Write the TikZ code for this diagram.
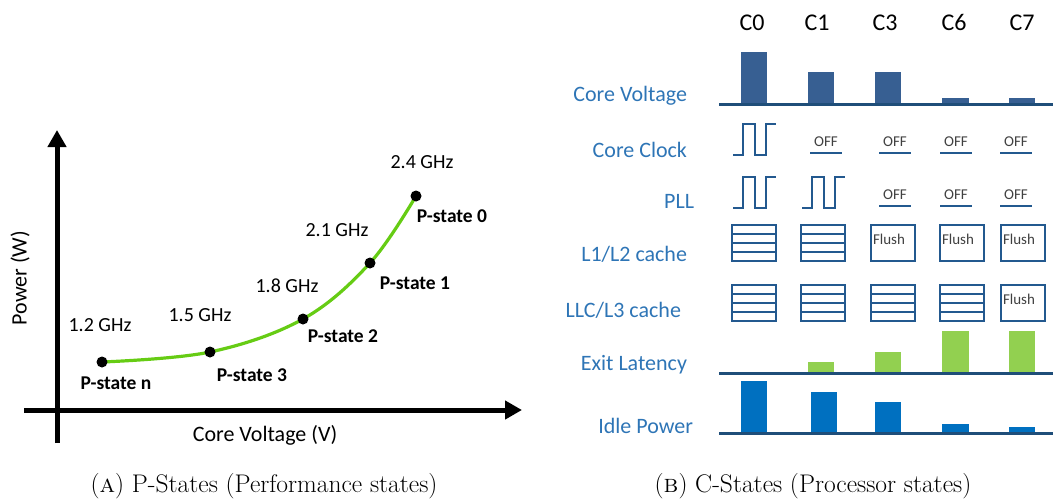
\documentclass[tikz,border=0pt]{standalone}
\usepackage{fontspec}
\newfontfamily\carl{Carlito}
\usetikzlibrary{arrows.meta}
\definecolor{lbl}{HTML}{2E75B6}
\definecolor{navy}{HTML}{1F4E79}
\definecolor{wave}{HTML}{23598F}
\definecolor{voltbar}{HTML}{375F92}
\definecolor{idlebar}{HTML}{0070C0}
\definecolor{latbar}{HTML}{92D050}
\definecolor{curve}{HTML}{66CC14}
\tikzset{
  every node/.style={font=\carl, inner sep=0pt, outer sep=0pt},
  axis/.style={line width=5pt, -{Triangle[length=17pt,width=18pt]}},
  axislabel/.style={font=\carl\fontsize{22}{24}\selectfont},
  freq/.style={font=\carl\fontsize{20}{22}\selectfont},
  pstate/.style={font=\carl\bfseries\fontsize{19.5}{22}\selectfont},
  pdot/.style={circle, fill=black, minimum size=11pt},
  rowlabel/.style={font=\carl\fontsize{22}{24}\selectfont, text=lbl, anchor=base east},
  colhead/.style={font=\carl\fontsize{24}{26}\selectfont, anchor=base},
  baseline/.style={draw=navy, line width=3pt},
  sig/.style={draw=wave, line width=2.4pt, line join=miter},
  offtext/.style={font=\carl\fontsize{15}{17}\selectfont, text=black!75},
  flushtext/.style={font=\carl\fontsize{15}{17}\selectfont, text=black!75, anchor=west},
  capt/.style={font=\rmfamily\fontsize{25.5}{28}\selectfont, anchor=base},
  clk/.pic={\draw[sig] (0,0) -- ++(10,0) -- ++(0,-31) -- ++(12,0) -- ++(0,31)
                -- ++(11,0) -- ++(0,-31) -- ++(10,0);},
  offsig/.pic={\node[offtext] at (0,-11) {OFF};
               \draw[sig] (-16,0) -- (16,0);},
  cachebox/.pic={\draw[sig] (0,0) rectangle (44,36);
                 \foreach \yy in {9,18,27} \draw[sig] (0,\yy) -- (44,\yy);},
  flushbox/.pic={\draw[sig] (0,0) rectangle (44,36);
                 \node[flushtext] at (2,14) {Flush};}
}
\begin{document}
\begin{tikzpicture}[x=1pt,y=-1pt]
\useasboundingbox (0,0) rectangle (1053,499);

% ---------- P-states plot ----------
\coordinate (origin) at (57,410);
\coordinate (ytip) at (57,130);
\coordinate (xtip) at (522,410);
\coordinate (ybot) at (57,443);
\coordinate (xleft) at (24,410);
\draw[axis] (ybot) -- (ytip);
\draw[axis] (xleft) -- (xtip);
\node[axislabel] (xlab) at (265,435) {Core Voltage (V)};
\node[axislabel, rotate=90] (ylab) at (20,278) {Power (W)};

\coordinate (pn) at (102,362);
\coordinate (p3) at (210,352);
\coordinate (p2) at (303,319);
\coordinate (p1) at (370,263);
\coordinate (p0) at (416,196);
\draw[curve, line width=3.2pt] plot[smooth, tension=0.6] coordinates {(pn) (p3) (p2) (p1) (p0)};
\foreach \p in {pn,p3,p2,p1,p0} \node[pdot] (dot-\p) at (\p) {};

\node[freq] (f12) at (100,325) {1.2 GHz};
\node[freq] (f15) at (200,315) {1.5 GHz};
\node[freq] (f18) at (287,286) {1.8 GHz};
\node[freq] (f21) at (337,230) {2.1 GHz};
\node[freq] (f24) at (422,162) {2.4 GHz};
\node[pstate] (s0) at (452,216) {P-state 0};
\node[pstate] (s1) at (415,283) {P-state 1};
\node[pstate] (s2) at (343,336) {P-state 2};
\node[pstate] (s3) at (252,375) {P-state 3};
\node[pstate] (sn) at (116,383) {P-state n};

% ---------- C-states table ----------
\node[colhead] (c0) at (752,30) {C0};
\node[colhead] (c1) at (817,30) {C1};
\node[colhead] (c3) at (885,30) {C3};
\node[colhead] (c6) at (954,30) {C6};
\node[colhead] (c7) at (1022,30) {C7};

\node[rowlabel] (rv) at (687,101) {Core Voltage};
\node[rowlabel] (rc) at (687,157) {Core Clock};
\node[rowlabel] (rp) at (694,208) {PLL};
\node[rowlabel] (rl1) at (687,261) {L1/L2 cache};
\node[rowlabel] (rl3) at (681,317) {LLC/L3 cache};
\node[rowlabel] (re) at (687,370) {Exit Latency};
\node[rowlabel] (ri) at (693,433) {Idle Power};

% core voltage
\fill[voltbar] (741,52) rectangle (767,104);
\fill[voltbar] (808,72) rectangle (834,104);
\fill[voltbar] (875,72) rectangle (901,104);
\fill[voltbar] (942,98) rectangle (969,104);
\fill[voltbar] (1009,98) rectangle (1035,104);
\draw[baseline] (719,104) -- (1053,104);

% core clock
\pic at (733,155) {clk};
\foreach \x in {826,895,956,1016} \pic at (\x,153) {offsig};

% PLL
\pic at (733,208) {clk};
\pic at (802,208) {clk};
\foreach \x in {895,956,1016} \pic at (\x,206) {offsig};

% L1/L2 cache
\pic at (732,225) {cachebox};
\pic at (801,225) {cachebox};
\pic at (871,225) {flushbox};
\pic at (940,225) {flushbox};
\pic at (1001,225) {flushbox};

% LLC/L3 cache
\pic at (732,285) {cachebox};
\pic at (801,285) {cachebox};
\pic at (871,285) {cachebox};
\pic at (940,285) {cachebox};
\pic at (1001,285) {flushbox};

% exit latency
\fill[latbar] (808,362) rectangle (834,373);
\fill[latbar] (875,352) rectangle (901,373);
\fill[latbar] (942,331) rectangle (969,373);
\fill[latbar] (1009,331) rectangle (1035,373);
\draw[baseline] (719,373) -- (1053,373);

% idle power
\fill[idlebar] (741,381) rectangle (767,433);
\fill[idlebar] (811,392) rectangle (837,433);
\fill[idlebar] (875,402) rectangle (901,433);
\fill[idlebar] (942,424) rectangle (969,433);
\fill[idlebar] (1009,427) rectangle (1035,433);
\draw[baseline] (719,433) -- (1053,433);

% ---------- captions ----------
\node[capt] (capa) at (264,492) {(\textsc{a}) P-States (Performance states)};
\node[capt] (capb) at (813,492) {(\textsc{b}) C-States (Processor states)};
\end{tikzpicture}
\end{document}
